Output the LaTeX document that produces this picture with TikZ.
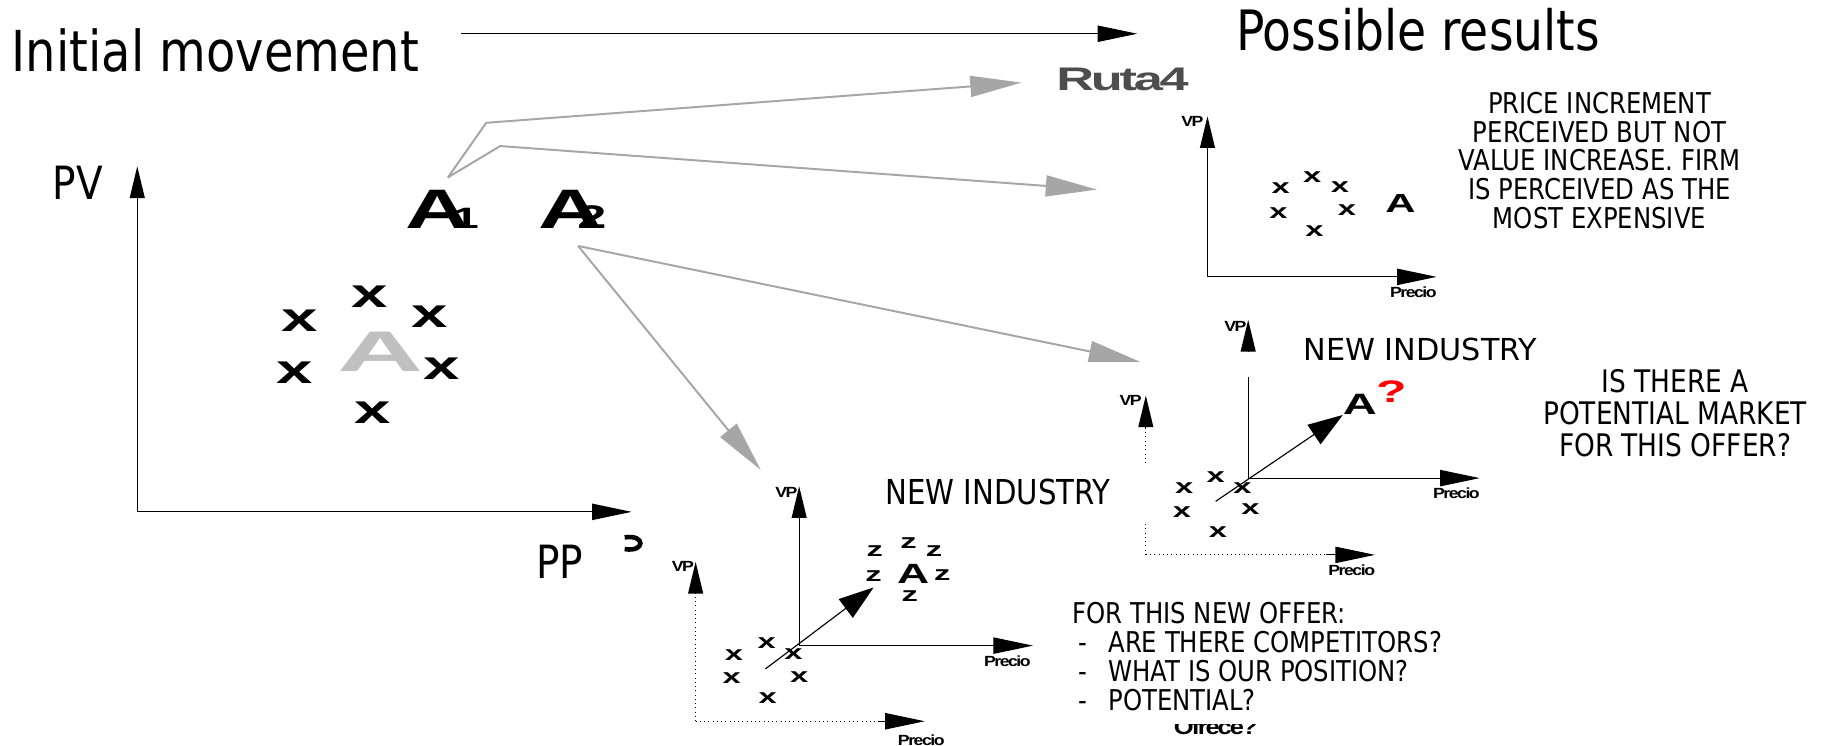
\documentclass[tikz,border=0pt]{standalone}
\usepackage{fontspec}
\setmainfont{DejaVu Sans}
\newfontfamily\condfont[FakeStretch=0.85]{DejaVu Sans}
\newfontfamily\widefont[FakeStretch=1.6]{Liberation Sans}
\newfontfamily\tightfont[FakeStretch=1.6, LetterSpace=-10]{Liberation Sans}
\newfontfamily\labelfont[FakeStretch=1.2, LetterSpace=-10]{Liberation Sans}
\usetikzlibrary{arrows.meta}

\definecolor{arrgray}{HTML}{A6A6A6}
\definecolor{lightletter}{HTML}{C0C0C0}
\definecolor{rutagray}{HTML}{4D4D4D}
\newcommand\fsz[1]{\fontsize{#1}{#1}\selectfont}

\begin{document}
\begin{tikzpicture}[
        x=0.025cm, y=-0.025cm,
        every node/.style={inner sep=0pt, outer sep=0pt},
        heading/.style={font=\condfont\fsz{34.5}},
        caption/.style={font=\condfont\fsz{21}},
        remark/.style={align=center},
        bigletter/.style={font=\widefont\bfseries\fsz{34}},
        bigx/.style={font=\widefont\bfseries\fsz{25}},
        smallx/.style={font=\widefont\bfseries\fsz{12.5}},
        axlabel/.style={font=\labelfont\bfseries\fsz{9}},
        axisline/.style={line width=0.7pt, -{Triangle[length=0.85cm, width=0.35cm]}},
        vaxis/.style={line width=0.7pt, -{Triangle[length=0.68cm, width=0.32cm]}},
        dotaxis/.style={dotted, line width=0.6pt},
        depth/.style={line width=0.7pt, -{Triangle[length=0.75cm, width=0.5cm]}},
        grayarrow/.style={draw=arrgray, line width=1.2pt, -{Triangle[length=1.1cm, width=0.45cm]}}
    ]
    \useasboundingbox (0,0) rectangle (1568,641);

    % headings
    \node[heading, anchor=west] (init) at (10,43) {Initial movement};
    \node[heading, font=\condfont\fsz{34}] (results) at (1219,26) {Possible results};
    \draw[axisline, line width=0.6pt] ([shift={(36,-14)}]init.east) -- ([shift={(-85,3)}]results.west);
    \node[font=\tightfont\bfseries\fsz{20}, text=rutagray] (ruta) at (965,68) {Ruta4};

    % initial map
    \coordinate (o1) at (118,440);
    \coordinate (y1) at (118,143);
    \coordinate (x1) at (543,440);
    \draw[vaxis] (o1) -- (y1);
    \draw[axisline] (o1) -- (x1);
    \node[font=\condfont\fsz{28}] (pv) at (67,157) {PV};
    \node[font=\condfont\fsz{28}] (pp) at (481,483) {PP};
    \draw[line width=2.8pt] (537,462) .. controls (555,459) and (555,475) .. (537,472);
    \foreach \x/\y [count=\i] in {318/255, 258/276, 369/272, 253/320, 380/317, 320/355}
        \node[bigx] (bx\i) at (\x,\y) {x};
    \node[bigletter, text=lightletter, font=\widefont\bfseries\fsz{35}] (A0) at (327,302) {\scalebox{1.3}[1]{A}};
    \node[bigletter] (A1) at (380,180) {A\kern-0.3em{\fsz{18}1}};
    \node[bigletter] (A2) at (492,180) {A\kern-0.45em{\fsz{20}2}};

    % moves
    \coordinate (in1) at (943,163);
    \coordinate (in2) at (980,311);
    \coordinate (in3) at (654,404);
    \draw[grayarrow] ([shift={(5,-11)}]A1.north) -- ++(33,-47) -- ([shift={(-30,3)}]ruta.west);
    \draw[grayarrow] ([shift={(5,-11)}]A1.north) -- ++(45,-27) -- (in1);
    \draw[grayarrow] ([shift={(5,15)}]A2.south) -- (in2);
    \draw[grayarrow] ([shift={(5,15)}]A2.south) -- (in3);

    % result 1: price up
    \coordinate (o2) at (1038,238);
    \coordinate (y2) at (1038,100);
    \coordinate (x2) at (1235,238);
    \draw[vaxis] (o2) -- (y2);
    \draw[axisline] (o2) -- (x2);
    \node[axlabel] (vp2) at (1025,104) {VP};
    \node[axlabel] (pr2) at (1215,251) {Precio};
    \foreach \x/\y [count=\i] in {1128/152, 1101/162, 1152/161, 1099/183, 1158/181, 1130/199}
        \node[smallx] (tx\i) at (\x,\y) {x};
    \node[bigletter, font=\widefont\bfseries\fsz{16}] (Aexp) at (1204,175) {A};
    \node[remark, font=\condfont\fontsize{17.5}{17.7}\selectfont] (price) at (1375,138)
        {PRICE INCREMENT\\PERCEIVED BUT NOT\\VALUE INCREASE. FIRM\\IS PERCEIVED AS THE\\MOST EXPENSIVE};

    % result 2: new industry, no market?
    \coordinate (o3) at (985,477);
    \coordinate (y3) at (985,340);
    \coordinate (x3) at (1182,477);
    \draw[dotaxis] (o3) -- (985,449);
    \draw[dotaxis] (985,398) -- (985,366);
    \draw[vaxis] (985,367) -- (y3);
    \draw[dotaxis] (o3) -- (1150,477);
    \draw[axisline] (1140,477) -- (x3);
    \node[axlabel] (vp3) at (972,344) {VP};
    \node[axlabel] (pr3) at (1162,490) {Precio};
    \coordinate (o4) at (1073,411);
    \coordinate (y4) at (1073,275);
    \coordinate (x4) at (1272,411);
    \draw[line width=0.7pt] (o4) -- (1073,324);
    \draw[vaxis] (1073,303) -- (y4);
    \draw[axisline] (o4) -- (x4);
    \node[axlabel] (vp4) at (1062,281) {VP};
    \node[axlabel] (pr4) at (1252,424) {Precio};
    \foreach \x/\y [count=\i] in {1045/410, 1018/420, 1068/420, 1016/440, 1075/438, 1047/457}
        \node[smallx] (mx\i) at (\x,\y) {x};
    \node[bigletter, font=\widefont\bfseries\fsz{18}] (Anew) at (1169,348) {A};
    \node[font=\widefont\bfseries\fsz{19}, text=red] (quest) at (1196,337) {?};
    \draw[depth] (1045,431) -- (Anew.south west);
    \node[font=\fsz{18.5}] (ind1) at (1221,300) {NEW INDUSTRY};
    \node[remark, font=\condfont\fontsize{19}{19.5}\selectfont] (market) at (1440,355)
        {IS THERE A\\POTENTIAL MARKET\\FOR THIS OFFER?};

    % result 3: new industry, new offer
    \coordinate (o5) at (598,620);
    \coordinate (y5) at (598,483);
    \coordinate (x5) at (795,620);
    \draw[dotaxis] (o5) -- (598,510);
    \draw[vaxis] (598,511) -- (y5);
    \draw[dotaxis] (o5) -- (762,620);
    \draw[axisline] (755,620) -- (x5);
    \node[axlabel] (vp5) at (587,487) {VP};
    \node[axlabel] (pr5) at (792,636) {Precio};
    \coordinate (o6) at (687,555);
    \coordinate (y6) at (687,418);
    \coordinate (x6) at (888,555);
    \draw[vaxis] (o6) -- (y6);
    \draw[axisline] (o6) -- (x6);
    \node[axlabel] (vp6) at (676,423) {VP};
    \node[axlabel] (pr6) at (866,568) {Precio};
    \foreach \x/\y [count=\i] in {659/553, 631/563, 682/562, 629/583, 687/582, 660/600}
        \node[smallx] (nx\i) at (\x,\y) {x};
    \foreach \x/\y [count=\i] in {781/467, 752/474, 803/474, 751/495, 810/494, 782/512}
        \node[smallx] (nz\i) at (\x,\y) {z};
    \node[bigletter, font=\widefont\bfseries\fsz{17}] (Aoffer) at (785,493) {A};
    \draw[depth] (658,575) -- (751,505);
    \node[caption] (ind2) at (858,423) {NEW INDUSTRY};
    \node[font=\condfont\fontsize{17.5}{17.7}\selectfont, align=left, anchor=north west] (offer) at (922,518)
        {FOR THIS NEW OFFER:\\
         \hspace*{0.12cm}\makebox[0.65cm][l]{-}ARE THERE COMPETITORS?\\
         \hspace*{0.12cm}\makebox[0.65cm][l]{-}WHAT IS OUR POSITION?\\
         \hspace*{0.12cm}\makebox[0.65cm][l]{-}POTENTIAL?};
    \begin{scope}
        \clip (1000,623) rectangle (1095,641);
        \node[font=\labelfont\bfseries\fsz{13}, anchor=base] (ofrece) at (1045,631) {Ofrece?};
    \end{scope}
\end{tikzpicture}
\end{document}
